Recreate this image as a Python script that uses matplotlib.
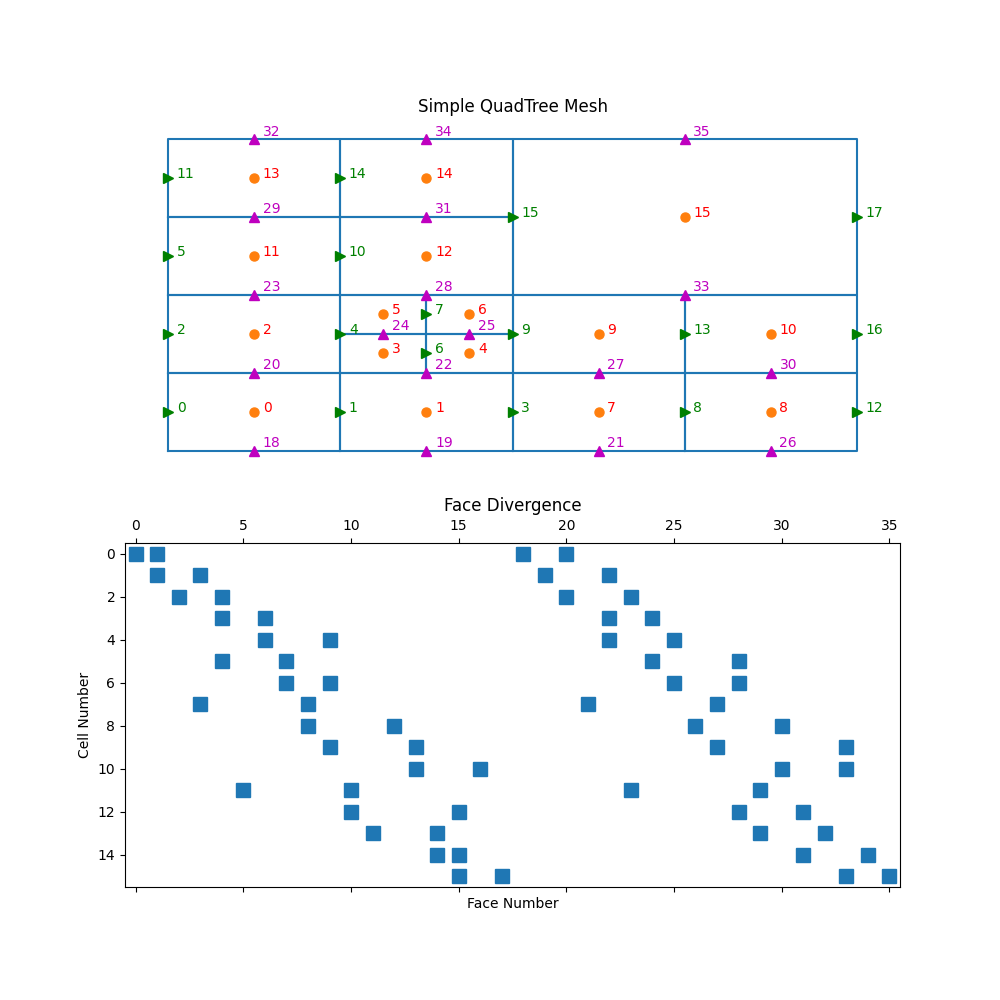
import matplotlib
matplotlib.use("Agg")
import matplotlib.pyplot as plt

# cell centres and widths of the quadtree mesh (cells are twice as wide as tall)
cell_x = [4, 12, 4, 10, 14, 10, 14, 20, 28, 20, 28, 4, 12, 4, 12, 24]
cell_y = [2, 2, 6, 5, 5, 7, 7, 2, 2, 6, 6, 10, 10, 14, 14, 12]
cell_w = [8, 8, 8, 4, 4, 4, 4, 8, 8, 8, 8, 8, 8, 8, 8, 16]

# x faces are numbered first, y faces carry on from 18
face_x_x = [0, 8, 0, 16, 8, 0, 12, 12, 24, 16, 8, 0, 32, 24, 8, 16, 32, 32]
face_x_y = [2, 2, 6, 2, 6, 10, 5, 7, 2, 6, 10, 14, 2, 6, 14, 12, 6, 12]
face_y_x = [4, 12, 4, 20, 12, 4, 10, 14, 28, 20, 12, 4, 28, 12, 4, 24, 12, 24]
face_y_y = [0, 0, 4, 0, 4, 8, 6, 6, 0, 4, 8, 12, 4, 12, 16, 8, 16, 16]

# non zero columns of the face divergence, one list per cell
div_cols = [
    [0, 1, 18, 20],
    [1, 3, 19, 22],
    [2, 4, 20, 23],
    [4, 6, 22, 24],
    [6, 9, 22, 25],
    [4, 7, 24, 28],
    [7, 9, 25, 28],
    [3, 8, 21, 27],
    [8, 12, 26, 30],
    [9, 13, 27, 33],
    [13, 16, 30, 33],
    [5, 10, 23, 29],
    [10, 15, 28, 31],
    [11, 14, 29, 32],
    [14, 15, 31, 34],
    [15, 17, 33, 35],
]

fig = plt.figure(figsize=(10, 10), dpi=100)

# --------------------------------------------------
# Mesh
# --------------------------------------------------
ax = fig.add_axes([0.125, 0.53, 0.775, 0.35])
for x, y, w in zip(cell_x, cell_y, cell_w):
    rx = w / 2
    ry = w / 4
    ax.plot([x - rx, x + rx, x + rx, x - rx, x - rx],
            [y - ry, y - ry, y + ry, y + ry, y - ry], color="C0", lw=1.5)

ax.plot(cell_x, cell_y, "o", color="C1", ms=6.5, ls="none")
ax.plot(face_x_x, face_x_y, ">", color="g", ms=6.5, ls="none")
ax.plot(face_y_x, face_y_y, "^", color="m", ms=6.5, ls="none")

for i, (x, y) in enumerate(zip(cell_x, cell_y)):
    ax.text(x + 0.4, y, str(i), color="r")
for i, (x, y) in enumerate(zip(face_x_x, face_x_y)):
    ax.text(x + 0.4, y, str(i), color="g")
for i, (x, y) in enumerate(zip(face_y_x, face_y_y)):
    ax.text(x + 0.4, y + 0.2, str(i + len(face_x_x)), color="m")

ax.set_xlim(-2, 34)
ax.set_ylim(-1, 17)
ax.axis("off")
ax.set_title("Simple QuadTree Mesh")

# --------------------------------------------------
# Face divergence sparsity
# --------------------------------------------------
ax2 = fig.add_axes([0.125, 0.113, 0.775, 0.344])
rows = [r for r, cols in enumerate(div_cols) for _ in cols]
cols = [c for row in div_cols for c in row]
ax2.plot(cols, rows, "s", color="C0", ms=10, ls="none")
ax2.set_xlim(-0.5, 35.5)
ax2.set_ylim(15.5, -0.5)
ax2.xaxis.tick_top()
ax2.tick_params(axis="x", bottom=True)
ax2.set_xticks(range(0, 36, 5))
ax2.set_yticks(range(0, 15, 2))
ax2.set_title("Face Divergence")
ax2.set_ylabel("Cell Number")
ax2.xaxis.set_label_position("bottom")
ax2.set_xlabel("Face Number")

fig.savefig("out.png", dpi=100)
